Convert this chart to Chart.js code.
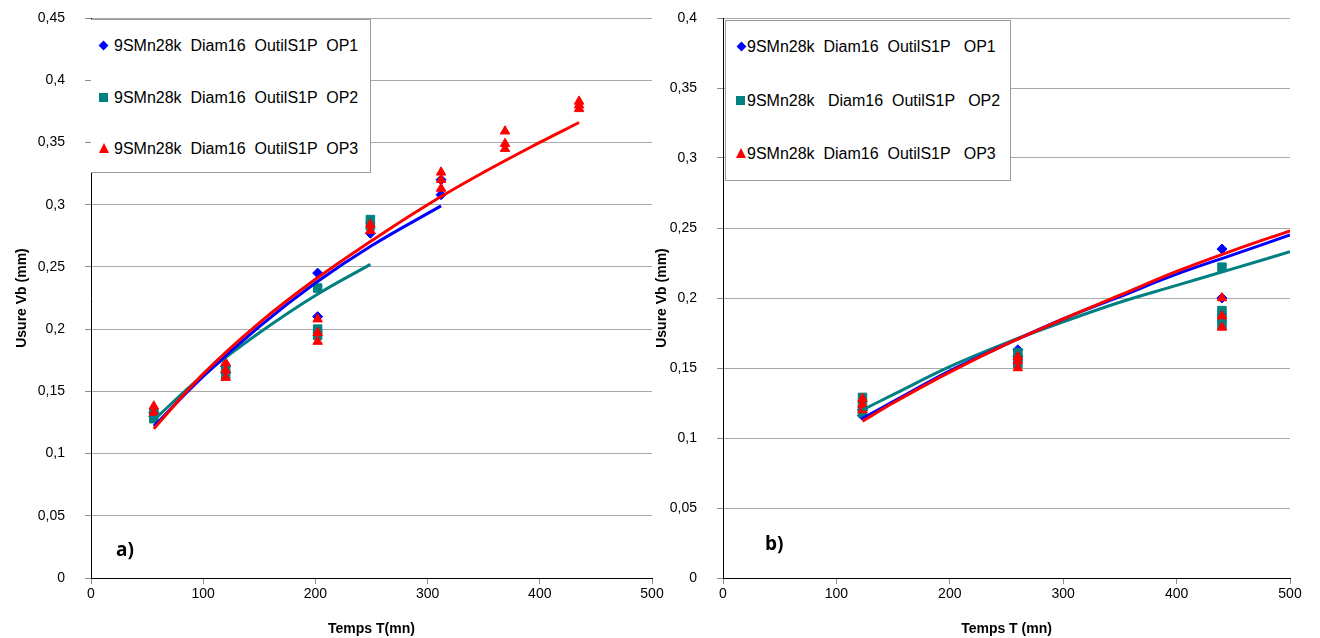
<!DOCTYPE html>
<html><head><meta charset="utf-8">
<script src="https://cdn.jsdelivr.net/npm/chart.js@4"></script>
<style>
html,body{margin:0;padding:0;background:#fff;width:1320px;height:638px;overflow:hidden;font-family:"Liberation Sans",Arial,sans-serif}
.wrap{position:absolute;top:0;height:638px;width:670px}
#wa{left:0}
#wb{left:650px}
.legend{position:absolute;background:#fff;border:1px solid #9a9a9a;box-sizing:border-box;color:#000;font-size:16px}
.item{position:absolute;white-space:pre;line-height:18px;height:18px}
.mk{position:absolute}
.dia{width:7px;height:7px;background:#0000ff;transform:rotate(45deg)}
.sq{width:9px;height:9px;background:#008080}
.tri{width:0;height:0;border-left:5px solid transparent;border-right:5px solid transparent;border-bottom:10px solid #ff0000}
.tag{position:absolute;font-family:"Open Sans","Liberation Sans",sans-serif;font-weight:bold;font-size:19px;color:#000}
</style></head>
<body>
<div class="wrap" id="wa"><canvas id="ca" width="670" height="638"></canvas></div>
<div class="wrap" id="wb"><canvas id="cb" width="670" height="638"></canvas></div>

<div class="legend" style="left:91px;top:19px;width:280px;height:154px;border-left:none">
  <div class="mk dia" style="left:9px;top:22px"></div><div class="item" style="left:23px;top:17px">9SMn28k  Diam16  OutilS1P  OP1</div>
  <div class="mk sq" style="left:8px;top:73px"></div><div class="item" style="left:23px;top:69px">9SMn28k  Diam16  OutilS1P  OP2</div>
  <div class="mk tri" style="left:8px;top:123px"></div><div class="item" style="left:23px;top:120px">9SMn28k  Diam16  OutilS1P  OP3</div>
</div>
<div class="legend" style="left:725px;top:20px;width:286px;height:161px">
  <div class="mk dia" style="left:12px;top:22px"></div><div class="item" style="left:21px;top:17px">9SMn28k  Diam16  OutilS1P   OP1</div>
  <div class="mk sq" style="left:10px;top:75px"></div><div class="item" style="left:21px;top:71px">9SMn28k   Diam16  OutilS1P   OP2</div>
  <div class="mk tri" style="left:10px;top:127px"></div><div class="item" style="left:21px;top:124px">9SMn28k  Diam16  OutilS1P   OP3</div>
</div>
<div class="tag" style="left:116px;top:536px">a)</div>
<div class="tag" style="left:765px;top:530px">b)</div>

<script>
// ---------- Data ----------
const seriesNames = ['9SMn28k  Diam16  OutilS1P  OP1', '9SMn28k  Diam16  OutilS1P  OP2', '9SMn28k  Diam16  OutilS1P  OP3'];
const xTickLabels = ['0', '100', '200', '300', '400', '500'];
const yTickLabelsA = ['0', '0,05', '0,1', '0,15', '0,2', '0,25', '0,3', '0,35', '0,4', '0,45'];
const yTickLabelsB = ['0', '0,05', '0,1', '0,15', '0,2', '0,25', '0,3', '0,35', '0,4'];

// Chart a) measured points
const op1A_x = [56, 56, 120, 120, 202, 202, 249, 312, 312];
const op1A_y = [0.130, 0.133, 0.165, 0.170, 0.245, 0.210, 0.277, 0.308, 0.320];
const op2A_x = [56, 56, 120, 120, 202, 202, 202, 249, 249];
const op2A_y = [0.128, 0.133, 0.163, 0.168, 0.233, 0.200, 0.195, 0.288, 0.283];
const op3A_x = [56, 56, 120, 120, 120, 202, 202, 202, 249, 249, 312, 312, 312, 369, 369, 369, 435, 435, 435];
const op3A_y = [0.138, 0.133, 0.173, 0.167, 0.161, 0.208, 0.197, 0.190, 0.284, 0.279, 0.326, 0.320, 0.313, 0.359, 0.349, 0.345, 0.383, 0.380, 0.377];

// Chart a) trend curves (read off the picture)
const fit1A_x = [56, 100, 150, 200, 250, 312];
const fit1A_y = [0.122, 0.162, 0.202, 0.237, 0.267, 0.299];
const fit2A_x = [56, 100, 150, 200, 249];
const fit2A_y = [0.127, 0.163, 0.197, 0.227, 0.252];
const fit3A_x = [56, 100, 150, 200, 250, 300, 350, 400, 435];
const fit3A_y = [0.120, 0.164, 0.205, 0.240, 0.271, 0.300, 0.326, 0.350, 0.366];

// Chart b) measured points
const op1B_x = [123, 123, 260, 260, 440, 440];
const op1B_y = [0.120, 0.116, 0.163, 0.158, 0.235, 0.200];
const op2B_x = [123, 123, 123, 260, 260, 260, 440, 440, 440, 440];
const op2B_y = [0.129, 0.123, 0.118, 0.161, 0.157, 0.153, 0.222, 0.191, 0.186, 0.181];
const op3B_x = [123, 123, 123, 260, 260, 260, 440, 440, 440];
const op3B_y = [0.128, 0.124, 0.120, 0.158, 0.155, 0.150, 0.200, 0.187, 0.179];

// Chart b) trend curves (read off the picture)
const fitB_x = [123, 150, 200, 250, 300, 350, 400, 450, 500];
const fit1B_y = [0.114, 0.126, 0.148, 0.167, 0.185, 0.201, 0.217, 0.231, 0.245];
const fit2B_y = [0.120, 0.131, 0.151, 0.168, 0.183, 0.197, 0.209, 0.221, 0.233];
const fit3B_y = [0.112, 0.125, 0.147, 0.167, 0.185, 0.202, 0.219, 0.234, 0.248];

// ---------- Helpers ----------
const pts = (xs, ys) => xs.map((x, i) => ({ x: x, y: ys[i] }));
const BLUE = '#0000ff', TEAL = '#008080', RED = '#ff0000';

function lineDs(label, xs, ys, color) {
  return { label: label, data: pts(xs, ys), showLine: true, borderColor: color, backgroundColor: color,
    borderWidth: 3, pointRadius: 0, pointHoverRadius: 0, tension: 0.4 };
}
function ptDs(label, xs, ys, color, style, r) {
  return { label: label, data: pts(xs, ys), showLine: false, pointStyle: style, pointRadius: r,
    pointBackgroundColor: color, pointBorderColor: color, pointBorderWidth: 1 };
}

function build(canvasId, d, yMax, yLabels, yWidth, padRight, yTitlePad, xTitle) {
  return new Chart(document.getElementById(canvasId), {
    type: 'scatter',
    data: { datasets: d },
    options: {
      responsive: false, animation: false, devicePixelRatio: 1,
      layout: { autoPadding: false, padding: { top: 18, right: padRight, left: 0, bottom: 0 } },
      plugins: { legend: { display: false }, tooltip: { enabled: false } },
      scales: {
        x: {
          type: 'linear', min: 0, max: 500,
          afterBuildTicks: s => { s.ticks = xTickLabels.map(t => ({ value: Number(t) })); },
          ticks: { autoSkip: false, padding: 2, color: '#000', font: { family: 'Liberation Sans', size: 14 },
            callback: (v) => xTickLabels[Math.round(v / 100)] },
          grid: { drawOnChartArea: false, drawTicks: true, tickLength: 6, tickColor: '#8c8c8c' },
          border: { display: true, color: '#000', width: 1 },
          title: { display: true, text: xTitle, color: '#000', padding: { top: 0, bottom: 0 },
            font: { family: 'Liberation Sans', size: 14, weight: 'bold' } },
          afterFit: s => { s.height = 60; s.paddingLeft = 0; s.paddingRight = 0; }
        },
        y: {
          type: 'linear', min: 0, max: yMax,
          afterBuildTicks: s => { s.ticks = yLabels.map((t, i) => ({ value: i * 0.05 })); },
          ticks: { autoSkip: false, padding: 20, color: '#000', font: { family: 'Liberation Sans', size: 14 },
            callback: (v) => yLabels[Math.round(v / 0.05)] },
          grid: { color: '#aaaaaa', lineWidth: 1, drawTicks: true, tickLength: 6, tickColor: '#8c8c8c' },
          border: { display: true, color: '#000', width: 1 },
          title: { display: true, text: 'Usure Vb (mm)', color: '#000', padding: { top: yTitlePad, bottom: 0 },
            font: { family: 'Liberation Sans', size: 14, weight: 'bold' } },
          afterFit: s => { s.width = yWidth; s.paddingTop = 0; s.paddingBottom = 0; }
        }
      }
    }
  });
}

build('ca', [
  lineDs(seriesNames[2], fit3A_x, fit3A_y, RED),
  lineDs(seriesNames[0], fit1A_x, fit1A_y, BLUE),
  lineDs(seriesNames[1], fit2A_x, fit2A_y, TEAL),
  ptDs(seriesNames[2], op3A_x, op3A_y, RED, 'triangle', 5.5),
  ptDs(seriesNames[1], op2A_x, op2A_y, TEAL, 'rect', 6),
  ptDs(seriesNames[0], op1A_x, op1A_y, BLUE, 'rectRot', 5)
], 0.45, yTickLabelsA, 91, 18, 14, 'Temps T(mn)');

build('cb', [
  lineDs(seriesNames[2], fitB_x, fit3B_y, RED),
  lineDs(seriesNames[0], fitB_x, fit1B_y, BLUE),
  lineDs(seriesNames[1], fitB_x, fit2B_y, TEAL),
  ptDs(seriesNames[2], op3B_x, op3B_y, RED, 'triangle', 5.5),
  ptDs(seriesNames[1], op2B_x, op2B_y, TEAL, 'rect', 6),
  ptDs(seriesNames[0], op1B_x, op1B_y, BLUE, 'rectRot', 5)
], 0.4, yTickLabelsB, 73, 30, 4, 'Temps T (mn)');
</script>
</body></html>
